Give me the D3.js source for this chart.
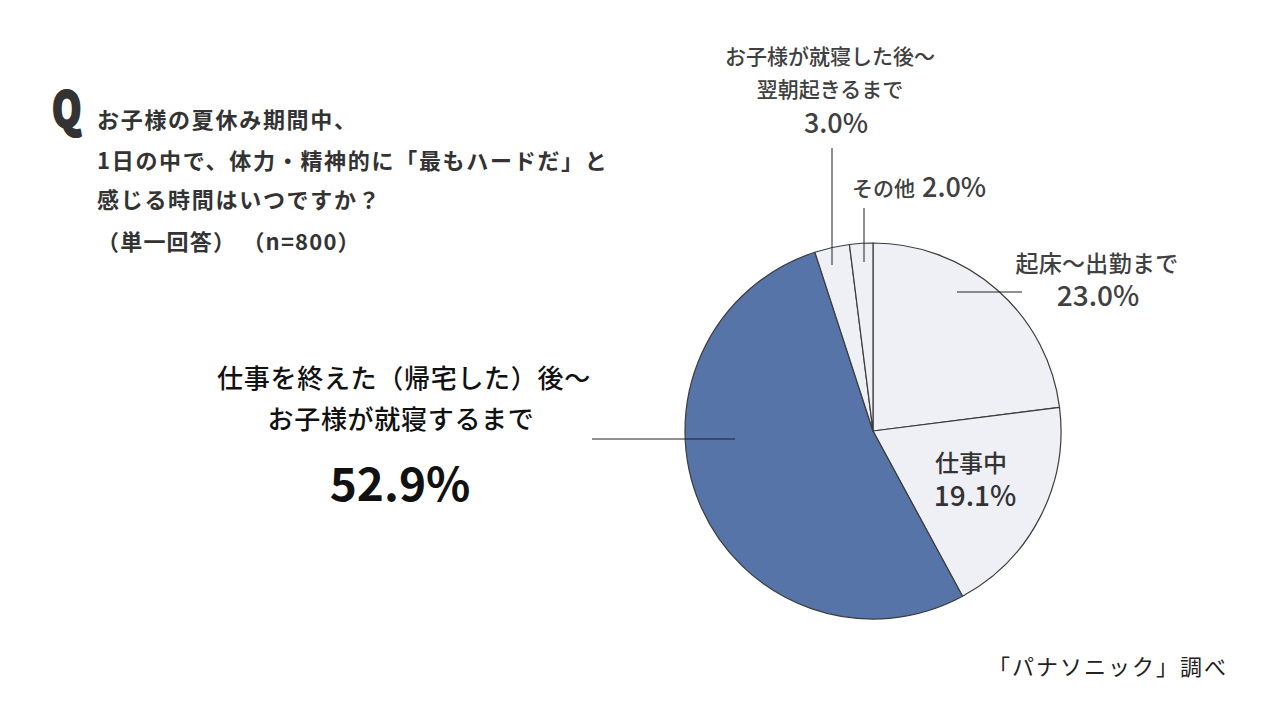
<!DOCTYPE html>
<html>
<head>
<meta charset="utf-8">
<script src="https://cdn.jsdelivr.net/npm/d3@7"></script>
<style>
  html, body { margin: 0; padding: 0; background: #fff; }
  svg { display: block; font-family: "Noto Sans CJK JP", "Noto Sans", sans-serif; }
</style>
</head>
<body>
<svg id="chart" width="1280" height="720"></svg>
<script>
// slices, clockwise from 12 o'clock
const sliceNames = ["起床〜出勤まで", "仕事中", "仕事を終えた（帰宅した）後〜お子様が就寝するまで", "お子様が就寝した後〜翌朝起きるまで", "その他"];
const sliceValues = [23.0, 19.1, 52.9, 3.0, 2.0];
const sliceColors = ["#eef0f6", "#eef0f6", "#5674a8", "#eef0f6", "#eef0f6"];

const titleLines = ["お子様の夏休み期間中、", "1日の中で、体力・精神的に「最もハードだ」と", "感じる時間はいつですか？", "（単一回答） （n=800）"];

const svg = d3.select("#chart");
const cx = 873, cy = 431, radius = 188;

const pie = d3.pie().sort(null).value((d) => d)(sliceValues);
const arc = d3.arc().innerRadius(0).outerRadius(radius);

svg.append("g")
  .attr("transform", `translate(${cx},${cy})`)
  .selectAll("path")
  .data(pie)
  .join("path")
  .attr("d", arc)
  .attr("fill", (d, i) => sliceColors[i])
  .attr("stroke", "#3c3c3c")
  .attr("stroke-width", 1.2)
  .attr("stroke-linejoin", "round");

// question block — heavy, narrow Q
svg.append("text")
  .attr("transform", "translate(52,127) scale(0.78,1)")
  .attr("font-size", 48).attr("font-weight", 900)
  .attr("fill", "#333")
  .attr("stroke", "#333")
  .attr("stroke-width", 2.2)
  .attr("stroke-linejoin", "round")
  .text("Q");

svg.append("g")
  .selectAll("text")
  .data(titleLines)
  .join("text")
  .attr("x", 97)
  .attr("y", (d, i) => [128, 169, 208, 250][i])
  .attr("font-size", 22)
  .attr("font-weight", 700)
  .attr("letter-spacing", (d, i) => (i === 3 ? 1.2 : 1.7))
  .attr("fill", "#333")
  .text((d) => d);

// leader lines
const leaders = [
  [592, 439, 735, 439],
  [832, 148, 832, 265],
  [864, 208, 864, 262],
  [957, 292, 1022, 292],
];
svg.append("g")
  .selectAll("line")
  .data(leaders)
  .join("line")
  .attr("x1", (d) => d[0]).attr("y1", (d) => d[1])
  .attr("x2", (d) => d[2]).attr("y2", (d) => d[3])
  .attr("stroke", "#222")
  .attr("stroke-width", 1);

function label(x, y, txt, size, weight, anchor, fill, spacing) {
  svg.append("text")
    .attr("x", x).attr("y", y)
    .attr("text-anchor", anchor || "middle")
    .attr("font-size", size)
    .attr("font-weight", weight)
    .attr("letter-spacing", spacing || 0)
    .attr("fill", fill || "#404040")
    .text(txt);
}
const fmt = (v) => d3.format(".1f")(v) + "%";

// 52.9% slice
label(404, 388, "仕事を終えた（帰宅した）後〜", 26, 500, "middle", "#111", 0.7);
label(401, 429, "お子様が就寝するまで", 26, 500, "middle", "#111", 0.7);
label(400, 501, fmt(sliceValues[2]), 46, 700, "middle", "#111");

// 3.0% slice
label(830, 64, "お子様が就寝した後〜", 21, 500);
label(830, 97, "翌朝起きるまで", 21, 500);
label(836, 133, fmt(sliceValues[3]), 27, 500);

// 2.0% slice
label(852, 196, "その他", 21, 500, "start");
label(922, 197, fmt(sliceValues[4]), 27, 500, "start");

// 23.0%
label(1097, 272, "起床〜出勤まで", 23, 500, "middle", "#404040", 0.3);
label(1098, 306, fmt(sliceValues[0]), 28, 500);

// 19.1%
label(971, 472, "仕事中", 24, 500, "middle", "#333");
label(975, 506, fmt(sliceValues[1]), 28, 500, "middle", "#333");

// source
label(1228, 675, "「パナソニック」調べ", 22, 400, "end", "#222", 2);
</script>
</body>
</html>
